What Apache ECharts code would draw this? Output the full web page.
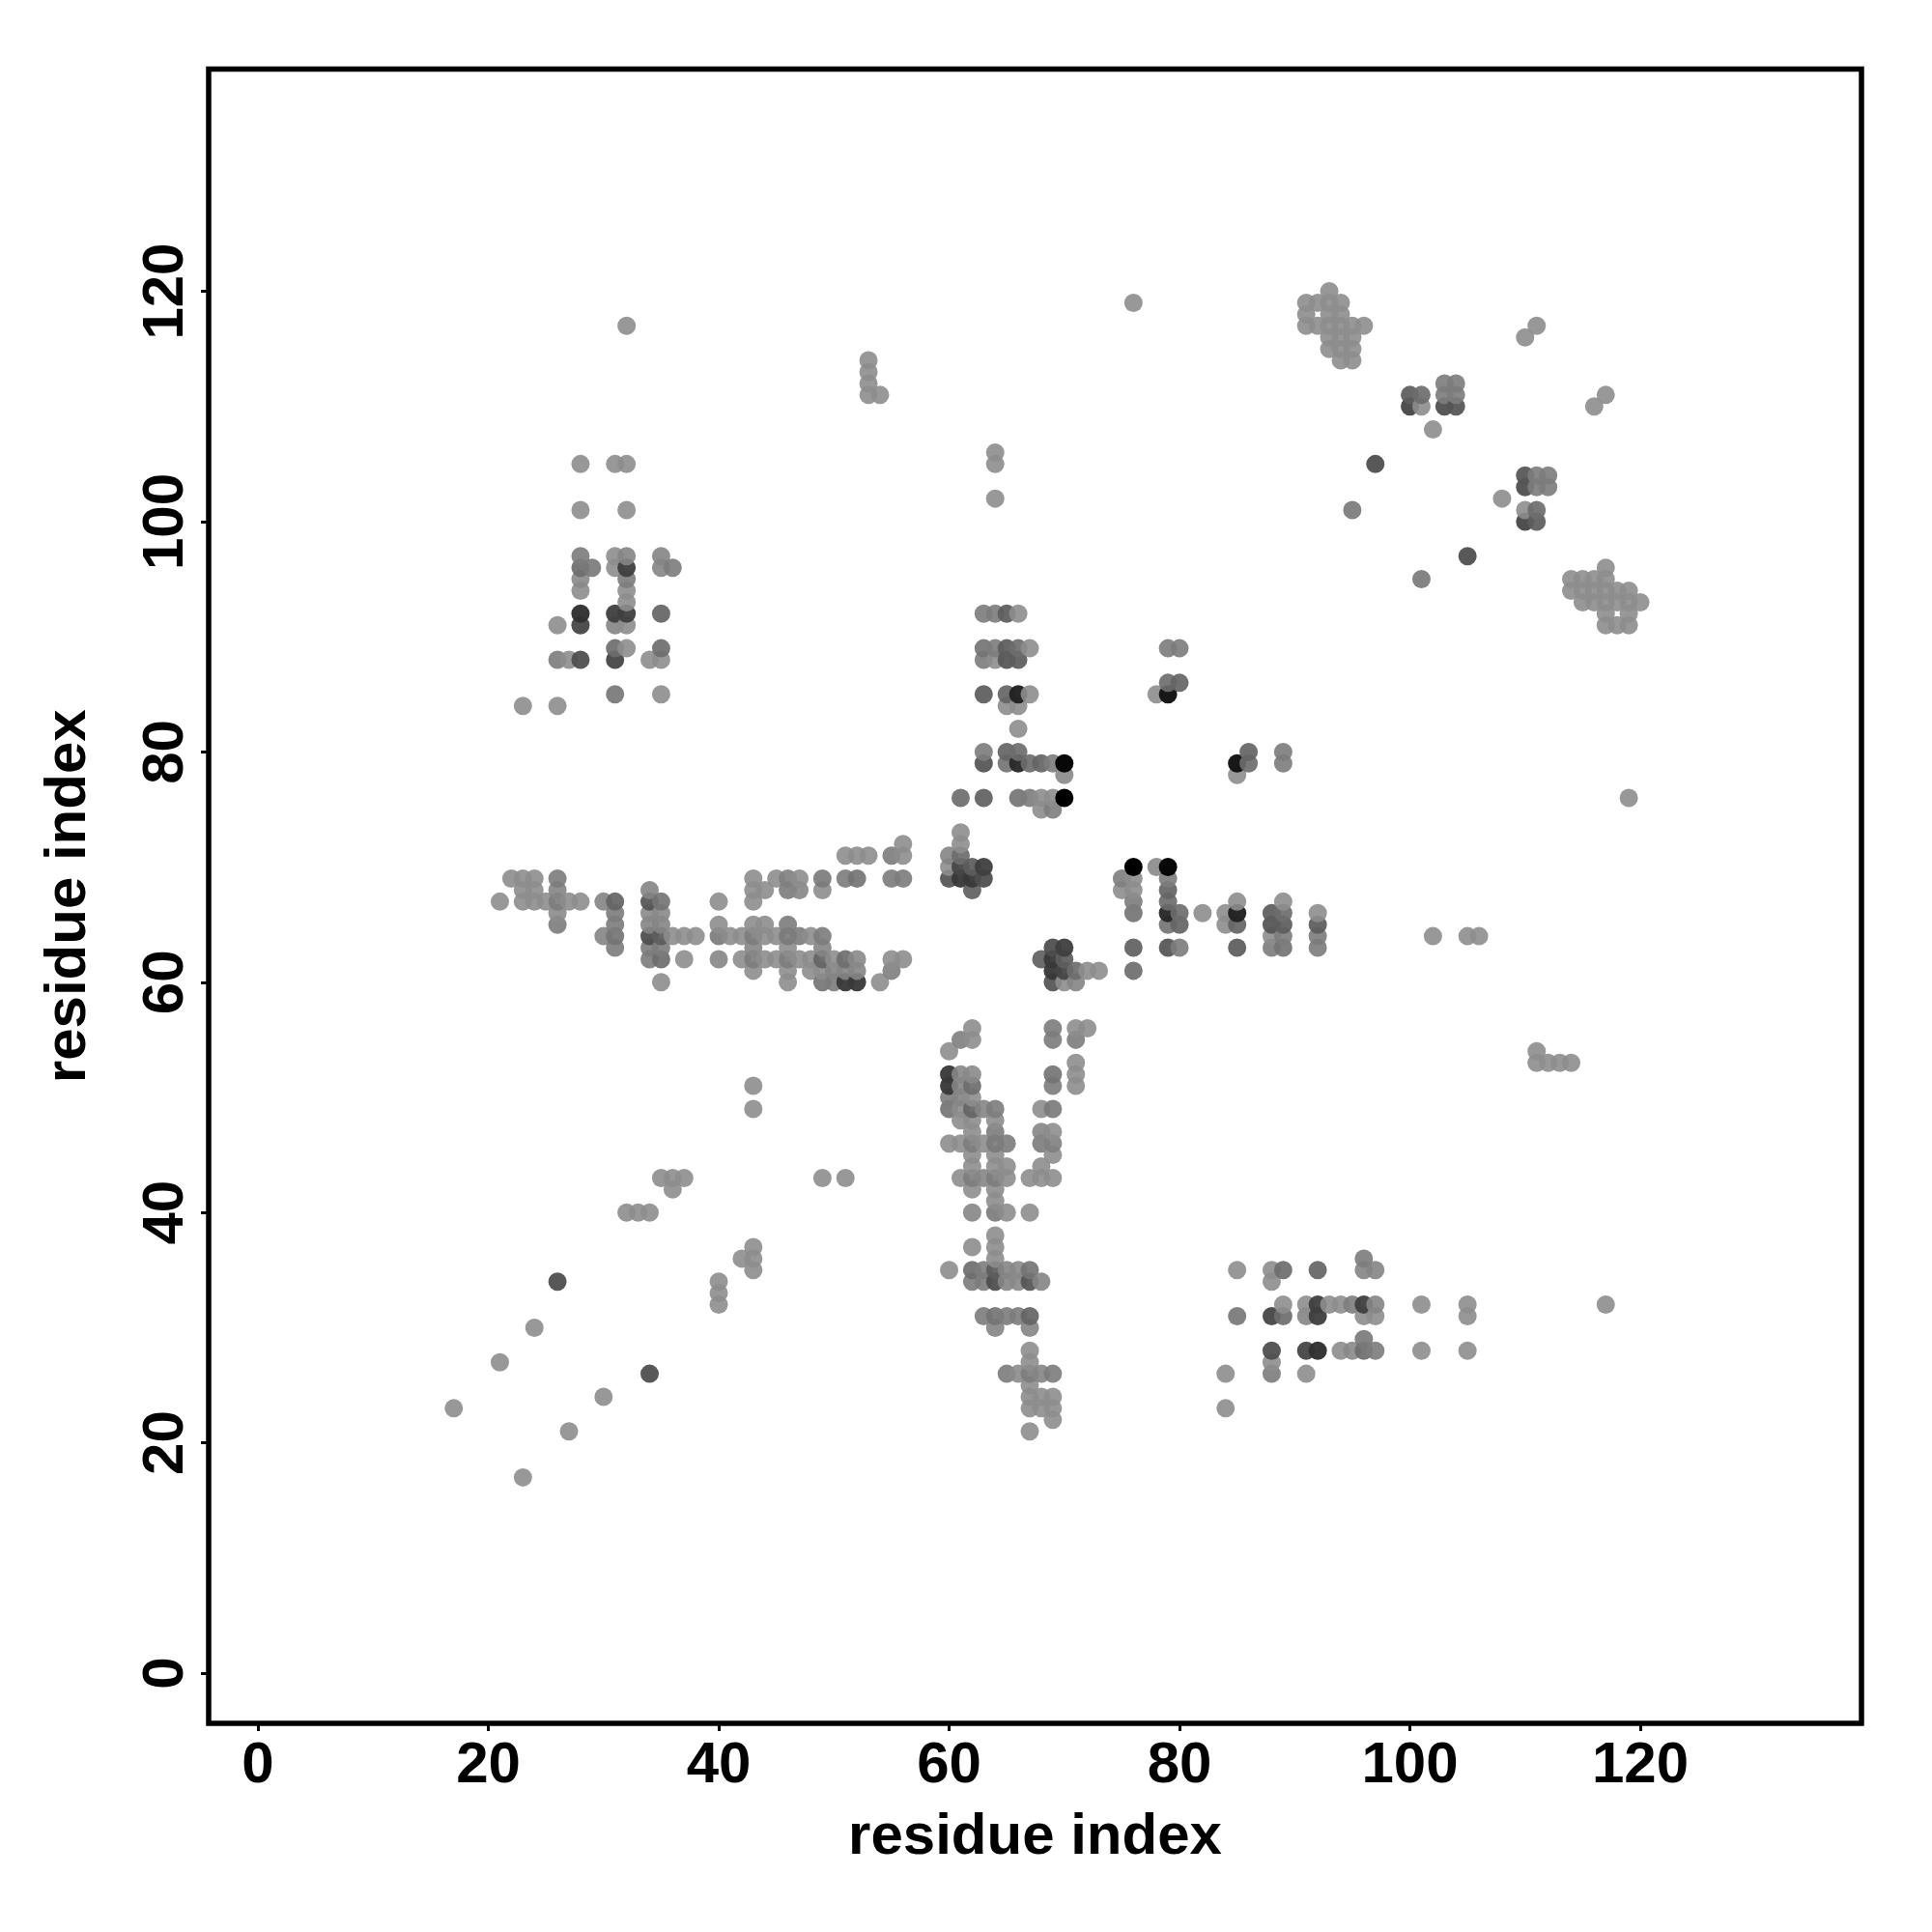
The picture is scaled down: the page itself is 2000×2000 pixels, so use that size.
<!DOCTYPE html>
<html>
<head>
<meta charset="utf-8">
<style>html,body{margin:0;padding:0;background:#fff}#c{width:2000px;height:2000px}</style>
<script src="https://cdn.jsdelivr.net/npm/echarts@6/dist/echarts.min.js"></script>
</head>
<body>
<div id="c"></div>
<script>
// Contacts [i, j, grey level seen in the picture]; the map is symmetric so each contact also plots as (j, i).
const LIGHT = 152;
const sparseLow = [[17,23,LIGHT],[21,27,LIGHT],[24,30,LIGHT],[26,34,88],[32,40,LIGHT],[33,40,LIGHT],[34,40,LIGHT],[35,43,LIGHT],[36,43,LIGHT],[37,43,LIGHT],[36,42,LIGHT],[43,49,LIGHT],[43,51,LIGHT]];
const bandLeft = [[21,67,LIGHT],[22,69,LIGHT],[23,67,LIGHT],[23,68,LIGHT],[23,69,LIGHT],[24,67,LIGHT],[24,68,LIGHT],[24,69,LIGHT],[25,67,LIGHT],
[26,65,136],[26,66,150],[26,67,136],[26,68,144],[26,69,136],[27,67,LIGHT],[28,67,LIGHT],[30,64,144],[30,67,144],
[31,63,136],[31,64,128],[31,65,136],[31,66,136],[31,67,112],
[34,62,136],[34,63,136],[34,64,88],[34,65,144],[34,66,148],[34,67,96],[34,68,144],
[35,60,LIGHT],[35,62,120],[35,63,136],[35,64,104],[35,65,144],[35,66,148],[35,67,128],
[36,64,LIGHT],[37,62,LIGHT],[37,64,LIGHT],[38,64,LIGHT]];
const bandMiddle = [[40,62,146],[40,64,134],[40,65,LIGHT],[40,67,LIGHT],[41,64,LIGHT],[42,62,LIGHT],[42,64,LIGHT],
[43,61,LIGHT],[43,62,136],[43,63,146],[43,64,136],[43,65,LIGHT],[43,67,LIGHT],[43,68,LIGHT],[43,69,LIGHT],
[44,62,LIGHT],[44,64,LIGHT],[44,65,LIGHT],[44,68,LIGHT],[45,62,LIGHT],[45,64,LIGHT],[45,69,LIGHT],
[46,60,LIGHT],[46,61,LIGHT],[46,62,136],[46,63,LIGHT],[46,64,133],[46,65,136],[46,68,136],[46,69,140],
[47,62,LIGHT],[47,64,136],[47,68,146],[47,69,LIGHT],[48,61,LIGHT],[48,62,LIGHT],[48,64,LIGHT],
[49,60,128],[49,61,LIGHT],[49,62,112],[49,63,144],[49,64,136],[49,68,LIGHT],[49,69,133],
[50,60,136],[50,61,144],[50,62,LIGHT],[51,60,64],[51,61,144],[51,62,122],[51,69,136],[51,71,LIGHT],
[52,60,64],[52,61,146],[52,62,148],[52,69,128],[52,71,LIGHT],[53,71,LIGHT],[54,60,LIGHT],
[55,61,140],[55,62,LIGHT],[55,69,136],[55,71,136],[56,62,LIGHT],[56,69,136],[56,71,LIGHT],[56,72,LIGHT]];
const blockUpperLeft = [[23,84,LIGHT],[26,84,LIGHT],[26,88,136],[26,91,LIGHT],[27,88,LIGHT],[28,88,88],[28,91,80],[28,92,56],[28,94,LIGHT],[28,95,148],[28,96,120],[28,97,136],[28,101,LIGHT],[28,105,LIGHT],[29,96,132],
[31,85,130],[31,88,80],[31,89,120],[31,91,144],[31,92,72],[31,96,LIGHT],[31,97,LIGHT],[31,105,LIGHT],
[32,89,LIGHT],[32,91,LIGHT],[32,92,72],[32,93,LIGHT],[32,94,LIGHT],[32,95,136],[32,96,72],[32,97,144],[32,101,LIGHT],[32,105,LIGHT],[32,117,LIGHT],
[34,88,LIGHT],[35,85,LIGHT],[35,88,LIGHT],[35,89,120],[35,92,112],[35,96,144],[35,97,144],[36,96,136]];
const blockCenter = [[60,69,96],[60,70,LIGHT],[60,71,144],[61,69,64],[61,70,80],[61,71,120],[61,72,LIGHT],[61,73,LIGHT],[61,76,120],
[62,68,108],[62,69,64],[62,70,104],[63,69,88],[63,70,72],[63,76,108],[63,79,96],[63,80,136],[63,85,104],[63,88,136],[63,89,128],[63,92,136],
[64,88,LIGHT],[64,89,136],[64,92,136],[64,102,LIGHT],[64,105,LIGHT],[64,106,LIGHT],
[65,79,128],[65,80,112],[65,84,LIGHT],[65,85,112],[65,88,96],[65,89,104],[65,92,104],
[66,76,128],[66,79,48],[66,80,120],[66,82,LIGHT],[66,84,LIGHT],[66,85,40],[66,88,104],[66,89,120],[66,92,LIGHT],
[67,76,136],[67,79,120],[67,85,LIGHT],[67,89,LIGHT],[68,75,LIGHT],[68,76,LIGHT],[68,79,112],[69,75,138],[69,76,LIGHT],[69,79,136],
[70,76,0],[70,78,148],[70,79,8],[78,85,LIGHT],[79,85,24],[79,86,120],[80,86,112],[79,89,136],[80,89,136]];
const blockUpperRight = [[53,111,LIGHT],[53,112,LIGHT],[53,113,LIGHT],[53,114,LIGHT],[54,111,LIGHT],[76,119,LIGHT],
[91,117,LIGHT],[91,118,LIGHT],[91,119,LIGHT],[92,117,LIGHT],[92,119,LIGHT],
[93,115,LIGHT],[93,116,LIGHT],[93,117,LIGHT],[93,118,LIGHT],[93,119,LIGHT],[93,120,LIGHT],
[94,114,LIGHT],[94,115,LIGHT],[94,116,LIGHT],[94,117,LIGHT],[94,118,LIGHT],[94,119,LIGHT],
[95,114,LIGHT],[95,115,LIGHT],[95,116,LIGHT],[95,117,LIGHT],[96,117,LIGHT],
[95,101,132],[97,105,88],[100,110,80],[100,111,104],[101,110,LIGHT],[101,111,120],[102,108,LIGHT],
[103,110,88],[103,111,136],[103,112,136],[104,110,96],[104,111,136],[104,112,136],[110,116,LIGHT],[111,117,LIGHT]];
const tickValues = [0,20,40,60,80,100,120];
const axisTitle = "residue index";

const contacts = [].concat(sparseLow, bandLeft, bandMiddle, blockUpperLeft, blockCenter, blockUpperRight);
const points = [];
contacts.forEach(c => { points.push([c[0],c[1],c[2]]); points.push([c[1],c[0],c[2]]); });
points.sort((a,b) => a[0]-b[0] || a[1]-b[1]);

function shade(level){
  const o = 1 - 0.1*level/LIGHT;
  const g = Math.max(0, Math.round((level - 255*(1-o))/o));
  return 'rgba('+g+','+g+','+g+','+o+')';
}
const FONT = '"Liberation Sans"';
function axis(extra){
  return Object.assign({
    type:'value', name:axisTitle, nameLocation:'middle', splitLine:{show:false},
    axisLine:{show:false,onZero:false},
    axisTick:{show:true,length:8,customValues:tickValues,lineStyle:{color:'#000',width:3}},
    nameTextStyle:{fontFamily:FONT,fontWeight:'bold',fontSize:60,color:'#000'}
  },extra);
}
const chart = echarts.init(document.getElementById('c'),null,{renderer:'canvas'});
chart.setOption({
  animation:false,
  backgroundColor:'#fff',
  grid:{left:216,top:71.5,width:1711,height:1712.5,show:true,borderColor:'#000',borderWidth:5.5,backgroundColor:'#fff'},
  xAxis:axis({min:-4.28,max:139.2,nameGap:88,
    axisLabel:{customValues:tickValues,margin:14,fontFamily:FONT,fontWeight:'bold',fontSize:60,color:'#000'}}),
  yAxis:axis({min:-4.36,max:139.3,nameGap:115,
    axisLabel:{customValues:tickValues,rotate:90,margin:14,fontFamily:FONT,fontWeight:'bold',fontSize:60,color:'#000'}}),
  series:[{type:'scatter',symbol:'circle',symbolSize:19,data:points,
    itemStyle:{opacity:1,color:p=>shade(p.value[2])}}]
});
</script>
</body>
</html>
